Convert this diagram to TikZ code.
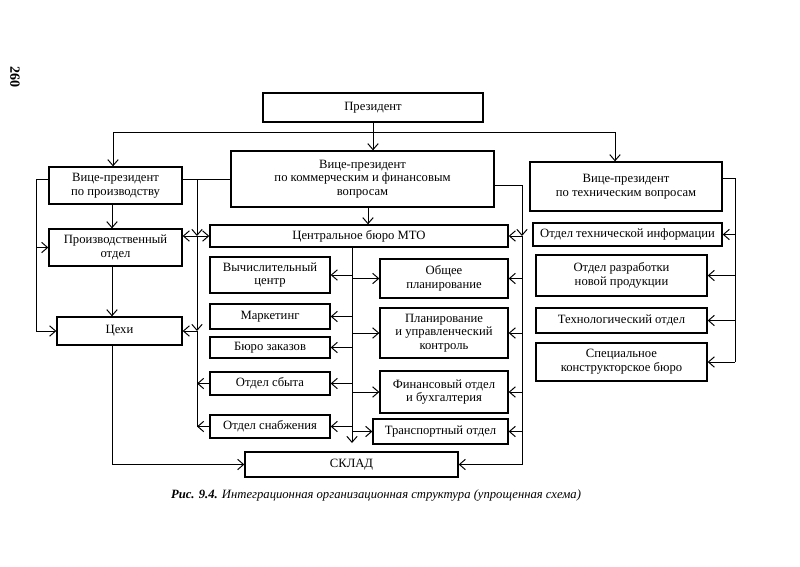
\documentclass[tikz,border=0pt]{standalone}
\usepackage{fontspec}
\setmainfont{Liberation Serif}
\usetikzlibrary{arrows.meta,positioning}

\begin{document}
\begin{tikzpicture}[
  x=0.025cm, y=-0.025cm,
  font=\fontsize{9}{9.8}\selectfont,
  >={Straight Barb[length=1.5mm,width=2.6mm]},
  block/.style={rectangle, draw=black, line width=0.9pt, fill=white, align=center, inner sep=1pt},
  arrow/.style={->, line width=0.7pt, draw=black},
  link/.style={line width=0.7pt, draw=black},
  caption/.style={font=\fontsize{9}{11}\selectfont\itshape}
]
\useasboundingbox (0,0) rectangle (800,566);

% management
\node[block, minimum width=5.5cm, minimum height=0.725cm] (pres) at (373,107.5) {Президент};
\node[block, minimum width=3.325cm, minimum height=0.925cm] (vpprod) at (115.5,185.5) {Вице-президент\\по производству};
\node[block, minimum width=6.575cm, minimum height=1.4cm] (vpcom) at (362.5,179) {Вице-президент\\по коммерческим и финансовым\\вопросам};
\node[block, minimum width=4.8cm, minimum height=1.225cm] (vptech) at (626,186.5) {Вице-президент\\по техническим вопросам};

% production
\node[block, minimum width=3.325cm, minimum height=0.925cm] (prodotd) at (115.5,247.5) {Производственный\\отдел};
\node[block, minimum width=3.125cm, minimum height=0.7cm] (cehi) at (119.5,331) {Цехи};

% commercial
\node[block, minimum width=7.45cm, minimum height=0.55cm] (cbmto) at (359,236) {Центральное бюро МТО};
\node[block, minimum width=3cm, minimum height=0.9cm] (vc) at (270,275) {Вычислительный\\центр};
\node[block, minimum width=3cm, minimum height=0.625cm] (mark) at (270,316.5) {Маркетинг};
\node[block, minimum width=3cm, minimum height=0.525cm] (buro) at (270,347.5) {Бюро заказов};
\node[block, minimum width=3cm, minimum height=0.575cm] (sbyt) at (270,383.5) {Отдел сбыта};
\node[block, minimum width=3cm, minimum height=0.575cm] (snab) at (270,426.5) {Отдел снабжения};
\node[block, minimum width=3.2cm, minimum height=0.975cm] (obsh) at (444,278.5) {Общее\\планирование};
\node[block, minimum width=3.2cm, minimum height=1.25cm] (plan) at (444,333) {Планирование\\и управленческий\\контроль};
\node[block, minimum width=3.2cm, minimum height=1.05cm] (fin) at (444,392) {Финансовый отдел\\и бухгалтерия};
\node[block, minimum width=3.375cm, minimum height=0.625cm] (trans) at (440.5,431.5) {Транспортный отдел};
\node[block, minimum width=5.325cm, minimum height=0.625cm] (sklad) at (351.5,464.5) {СКЛАД};

% technical
\node[block, minimum width=4.725cm, minimum height=0.575cm] (oti) at (627.5,234.5) {Отдел технической информации};
\node[block, minimum width=4.275cm, minimum height=1.025cm] (orp) at (621.5,275.5) {Отдел разработки\\новой продукции};
\node[block, minimum width=4.275cm, minimum height=0.625cm] (tech) at (621.5,320.5) {Технологический отдел};
\node[block, minimum width=4.275cm, minimum height=0.95cm] (skb) at (621.5,362) {Специальное\\конструкторское бюро};

% top bus
\coordinate (busL) at (113,132);
\coordinate (busR) at (615,132);
\draw[link] (busL) -- (busR);
\draw[arrow] (pres.south) -- (pres.south |- vpcom.north);
\draw[arrow] (busL) -- (busL |- vpprod.north);
\draw[arrow] (busR) -- (busR |- vptech.north);

% production column
\coordinate (colP) at (112,204);
\draw[arrow] (vpprod.south -| colP) -- (prodotd.north -| colP);
\draw[arrow] (prodotd.south -| colP) -- (cehi.north -| colP);
\draw[arrow] (cehi.south -| colP) |- (sklad.west);
\coordinate (outL) at (36,179);
\draw[link] (outL -| vpprod.west) -- (outL);
\draw[arrow] (outL) |- (cehi.west);
\draw[arrow] (outL |- prodotd.west) -- (prodotd.west);

% between production and commerce
\coordinate (midL) at (197,179);
\draw[link] (vpprod.east |- midL) -- (vpcom.west |- midL);
\draw[arrow] (midL) -- (midL |- cbmto.west);
\draw[arrow] (midL |- cbmto.west) -- (midL |- cehi.east);
\draw[link] (midL |- cehi.east) -- (midL |- snab.west);
\draw[arrow] (midL |- cbmto.west) -- (prodotd.east |- cbmto.west);
\draw[arrow] (midL |- cbmto.west) -- (cbmto.west);
\draw[arrow] (midL |- cehi.east) -- (cehi.east);
\draw[arrow] (sbyt.west) -- (sbyt.west -| midL);
\draw[arrow] (snab.west) -- (snab.west -| midL);

% central bureau
\coordinate (colC) at (368,207);
\draw[arrow] (vpcom.south -| colC) -- (cbmto.north -| colC);
\coordinate (midC) at (352,247);
\coordinate (midCend) at (352,443);
\draw[arrow] (cbmto.south -| midC) -- (midCend);
\foreach \n in {vc,mark,buro,sbyt,snab}
  \draw[arrow] (\n.east -| midC) -- (\n.east);
\foreach \n in {obsh,plan,fin,trans}
  \draw[arrow] (\n.west -| midC) -- (\n.west);

% commerce right bus
\coordinate (outR) at (522,185);
\draw[link] (vpcom.east |- outR) -- (outR);
\draw[arrow] (outR) -- (outR |- cbmto.east);
\draw[arrow] (outR |- cbmto.east) |- (sklad.east);
\draw[arrow] (outR |- cbmto.east) -- (cbmto.east);
\foreach \n in {obsh,plan,fin,trans}
  \draw[arrow] (\n.east -| outR) -- (\n.east);

% technical bus
\coordinate (outT) at (735,178);
\draw[link] (vptech.east |- outT) -- (outT) -- (outT |- skb.east);
\foreach \n in {oti,orp,tech,skb}
  \draw[arrow] (\n.east -| outT) -- (\n.east);

\node[caption] (cap) at (376,495) {{\bfseries Рис. 9.4.} Интеграционная организационная структура (упрощенная схема)};
\node[font=\fontsize{10}{10}\selectfont\bfseries, rotate=-90] (page) at (15,77) {260};
\end{tikzpicture}
\end{document}
